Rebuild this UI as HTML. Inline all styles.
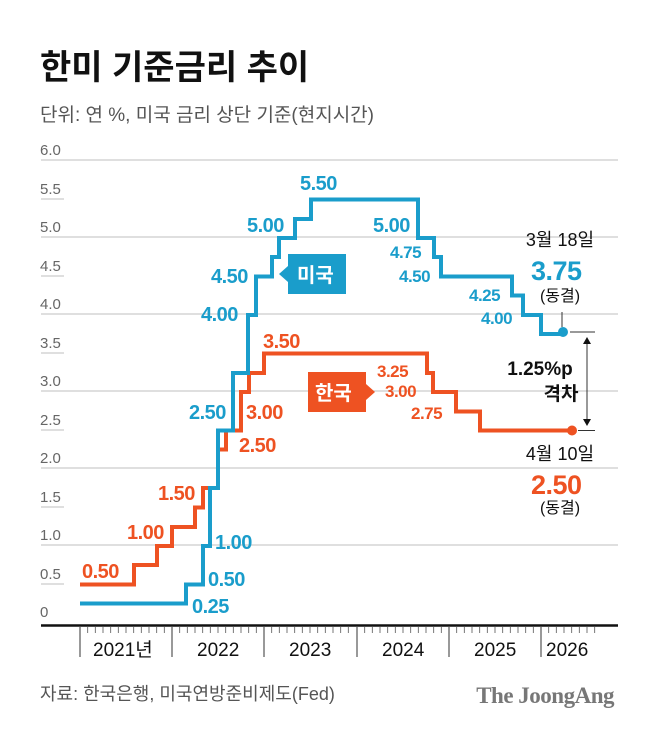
<!DOCTYPE html>
<html><head><meta charset="utf-8"><style>
body{margin:0;background:#fff;}
svg{display:block;font-family:"Liberation Sans","Noto Sans CJK KR",sans-serif;}
</style></head><body>
<svg width="658" height="734" viewBox="0 0 658 734" xmlns="http://www.w3.org/2000/svg">
<text x="40" y="79" font-size="34" font-weight="bold" fill="#111">한미 기준금리 추이</text>
<text x="40" y="121" font-size="19" fill="#555">단위: 연 %, 미국 금리 상단 기준(현지시간)</text>
<g fill="#666" font-size="15">
<text x="40" y="155">6.0</text><text x="40" y="194">5.5</text><text x="40" y="232">5.0</text><text x="40" y="271">4.5</text><text x="40" y="309">4.0</text><text x="40" y="348">3.5</text><text x="40" y="386">3.0</text><text x="40" y="425">2.5</text><text x="40" y="463">2.0</text><text x="40" y="502">1.5</text><text x="40" y="540">1.0</text><text x="40" y="579">0.5</text><text x="40" y="617">0</text>
</g>
<g stroke="#ccc" stroke-width="1.2">
<line x1="41" y1="160" x2="618" y2="160"/><line x1="41" y1="237" x2="618" y2="237"/><line x1="41" y1="314" x2="618" y2="314"/><line x1="41" y1="391" x2="618" y2="391"/><line x1="41" y1="468" x2="618" y2="468"/><line x1="41" y1="545" x2="618" y2="545"/>
<line x1="41" y1="199" x2="64" y2="199"/><line x1="41" y1="276" x2="64" y2="276"/><line x1="41" y1="353" x2="64" y2="353"/><line x1="41" y1="430" x2="64" y2="430"/><line x1="41" y1="507" x2="64" y2="507"/><line x1="41" y1="584" x2="64" y2="584"/>
</g>
<line x1="41" y1="625.5" x2="618" y2="625.5" stroke="#111" stroke-width="2.5"/>
<g stroke="#333" stroke-width="1">
<line x1="80" y1="627" x2="80" y2="657"/><line x1="172" y1="627" x2="172" y2="657"/><line x1="264" y1="627" x2="264" y2="657"/><line x1="357" y1="627" x2="357" y2="657"/><line x1="449" y1="627" x2="449" y2="657"/><line x1="541" y1="627" x2="541" y2="657"/>
</g>
<g stroke="#555" stroke-width="0.8">
<path d="M87.7 627v6M95.3 627v6M103 627v6M110.7 627v6M118.3 627v6M126 627v6M133.7 627v6M141.3 627v6M149 627v6M156.7 627v6M164.3 627v6M179.7 627v6M187.3 627v6M195 627v6M202.7 627v6M210.3 627v6M218 627v6M225.7 627v6M233.3 627v6M241 627v6M248.7 627v6M256.3 627v6M271.7 627v6M279.3 627v6M287 627v6M294.7 627v6M302.3 627v6M310 627v6M317.7 627v6M325.3 627v6M333 627v6M340.7 627v6M348.3 627v6M364.7 627v6M372.3 627v6M380 627v6M387.7 627v6M395.3 627v6M403 627v6M410.7 627v6M418.3 627v6M426 627v6M433.7 627v6M441.3 627v6M456.7 627v6M464.3 627v6M472 627v6M479.7 627v6M487.3 627v6M495 627v6M502.7 627v6M510.3 627v6M518 627v6M525.7 627v6M533.3 627v6M548.7 627v6M556.3 627v6M564 627v6M571.7 627v6M579.3 627v6M587 627v6M594.7 627v6"/>
</g>
<g font-size="19" fill="#111">
<text x="93" y="656">2021년</text><text x="197" y="656">2022</text><text x="289" y="656">2023</text><text x="382" y="656">2024</text><text x="474" y="656">2025</text><text x="546" y="656">2026</text>
</g>
<path d="M80 584.5H134V565H157V546H172V527H195V507.5H203V488H218V449.5H226V430.5H241V392H249V373H264V353.5H427V373H433V392H456V411.5H480V430.5H572" fill="none" stroke="#ee5222" stroke-width="4"/>
<circle cx="572" cy="430.5" r="5" fill="#ee5222"/>
<path d="M80 603.5H186V584.5H203V546H210V488H218V430.5H233V373H248V315H256V276.5H272V257H279V238H295V219H311V199.5H418V238H434V257H441V276.5H512V295.5H523V315H541V334H562" fill="none" stroke="#1a9dcb" stroke-width="4"/>
<circle cx="563" cy="332" r="5" fill="#1a9dcb"/>
<g stroke="#333" stroke-width="1">
<line x1="570" y1="332" x2="595" y2="332"/><line x1="578" y1="430.5" x2="595" y2="430.5"/>
<line x1="562" y1="312" x2="562" y2="327"/>
<line x1="587" y1="340" x2="587" y2="423"/>
</g>
<path d="M583 344L587 337L591 344ZM583 419L587 426L591 419Z" fill="#111"/>
<g font-weight="bold" fill="#1a9dcb" font-size="20" letter-spacing="-0.5">
<text x="192" y="613">0.25</text><text x="208" y="586">0.50</text><text x="215" y="549">1.00</text><text x="189" y="419">2.50</text><text x="201" y="321">4.00</text><text x="211" y="283">4.50</text><text x="247" y="232">5.00</text><text x="300" y="190">5.50</text>
<text x="373" y="232">5.00</text><text x="390" y="258" font-size="17">4.75</text><text x="399" y="282" font-size="17">4.50</text><text x="469" y="301" font-size="17">4.25</text><text x="481" y="324" font-size="17">4.00</text>
<text x="531" y="280" font-size="27">3.75</text>
</g>
<g font-weight="bold" fill="#ee5222" font-size="20" letter-spacing="-0.5">
<text x="82" y="578">0.50</text><text x="127" y="539">1.00</text><text x="158" y="500">1.50</text><text x="239" y="452">2.50</text><text x="246" y="419">3.00</text><text x="263" y="348">3.50</text>
<text x="377" y="377" font-size="17">3.25</text><text x="385" y="397" font-size="17">3.00</text><text x="411" y="419" font-size="17">2.75</text>
<text x="531" y="494" font-size="27">2.50</text>
</g>
<g>
<rect x="288" y="254" width="58" height="40" fill="#1a9dcb"/><path d="M288 266L279 274L288 282Z" fill="#1a9dcb"/>
<text x="297" y="282" font-size="20" font-weight="bold" fill="#fff">미국</text>
<rect x="308" y="372" width="58" height="40" fill="#ee5222"/><path d="M366 384L375 392L366 400Z" fill="#ee5222"/>
<text x="315" y="400" font-size="20" font-weight="bold" fill="#fff">한국</text>
</g>
<g fill="#111" font-size="18" text-anchor="middle">
<text x="560" y="246">3월 18일</text><text x="560" y="301" font-size="16">(동결)</text>
<text x="560" y="460">4월 10일</text><text x="560" y="513" font-size="16">(동결)</text>
<text x="540" y="375" font-weight="bold" font-size="19">1.25%p</text><text x="561" y="400" font-weight="bold" font-size="19">격차</text>
</g>
<text x="40" y="700" font-size="18" fill="#555">자료: 한국은행, 미국연방준비제도(Fed)</text>
<text x="614" y="703" font-size="23" font-weight="bold" fill="#777" text-anchor="end" font-family="Liberation Serif,serif" letter-spacing="-0.5">The JoongAng</text>
</svg>
</body></html>
